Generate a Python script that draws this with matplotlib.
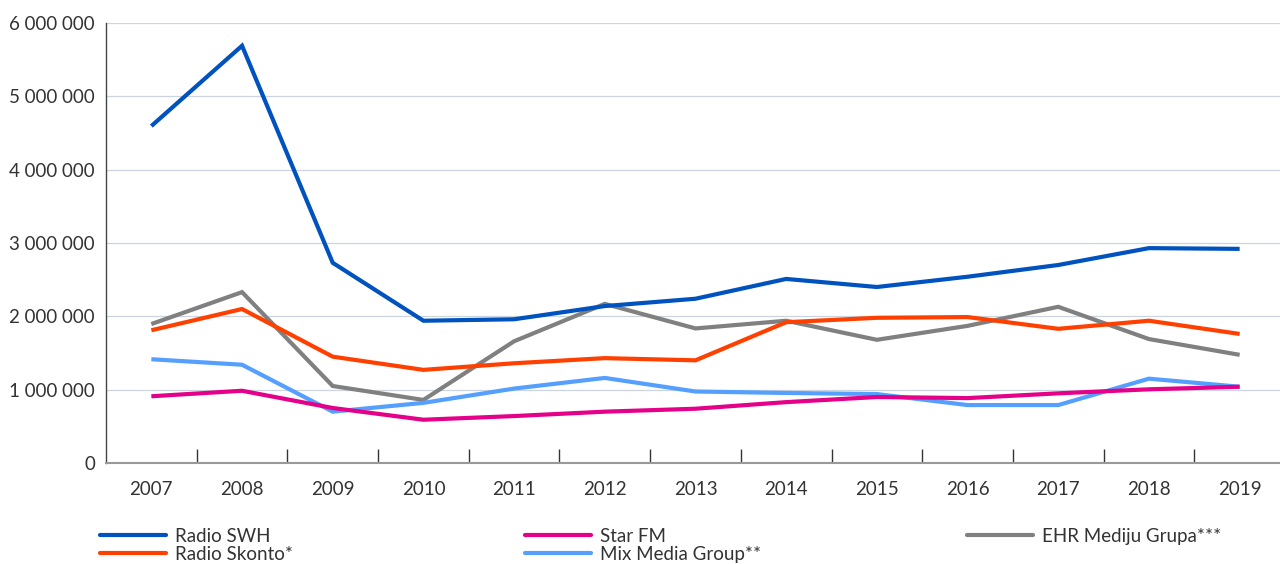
import matplotlib
matplotlib.use("Agg")
import matplotlib.pyplot as plt
from matplotlib.ticker import FuncFormatter, FixedLocator
from matplotlib.lines import Line2D

years = ["2007", "2008", "2009", "2010", "2011", "2012", "2013",
         "2014", "2015", "2016", "2017", "2018", "2019"]
radio_swh = [4595000, 5690000, 2730000, 1940000, 1960000, 2140000, 2240000,
             2510000, 2400000, 2540000, 2700000, 2930000, 2920000]
radio_skonto = [1810000, 2100000, 1450000, 1270000, 1360000, 1430000, 1400000,
                1920000, 1980000, 1990000, 1830000, 1940000, 1760000]
star_fm = [910000, 985000, 750000, 590000, 640000, 700000, 740000,
           830000, 900000, 885000, 950000, 1005000, 1040000]
mix_media = [1415000, 1340000, 700000, 820000, 1015000, 1160000, 975000,
             955000, 940000, 790000, 790000, 1150000, 1040000]
ehr = [1895000, 2330000, 1050000, 860000, 1660000, 2170000, 1835000,
       1940000, 1680000, 1870000, 2130000, 1690000, 1475000]

series = [
    ("Radio SWH", radio_swh, "#0052BE"),
    ("Radio Skonto*", radio_skonto, "#FF4000"),
    ("Star FM", star_fm, "#E5008A"),
    ("Mix Media Group**", mix_media, "#55A0FF"),
    ("EHR Mediju Grupa***", ehr, "#808080"),
]

plt.rcParams['font.family'] = ['Lato', 'DejaVu Sans']
text_color = "#333333"

fig = plt.figure(figsize=(12.8, 5.64), dpi=100)
ax = fig.add_axes([106/1280, 1-463/564, (1285-106)/1280, 440/564])

x = list(range(len(years)))
order = [4, 3, 2, 1, 0]
for i in order:
    name, vals, col = series[i]
    ax.plot(x, vals, color=col, lw=3.0, solid_capstyle='butt',
            solid_joinstyle='miter', zorder=3 + (5 - i))

ax.set_xlim(-0.5, len(years) - 0.5)
ax.set_ylim(0, 6000000)
ax.set_yticks(range(0, 6000001, 1000000))
ax.yaxis.set_major_formatter(FuncFormatter(lambda v, p: f"{int(v):,}".replace(",", " ")))
ax.grid(axis='y', color="#CCD5DE", lw=0.9)
ax.set_axisbelow(True)

ax.set_xticks(x)
ax.set_xticklabels(years)
ax.xaxis.set_minor_locator(FixedLocator([i + 0.5 for i in range(len(years) - 1)]))
ax.tick_params(axis='x', which='major', length=0, pad=13, labelsize=13.5, labelcolor=text_color)
ax.tick_params(axis='x', which='minor', direction='in', length=10, width=1, color="#333333")
ax.tick_params(axis='y', length=0, pad=8, labelsize=13.5, labelcolor=text_color)

for s in ['top', 'right']:
    ax.spines[s].set_visible(False)
ax.spines['left'].set_color("#444444")
ax.spines['left'].set_linewidth(1.0)
ax.spines['bottom'].set_color("#999999")
ax.spines['bottom'].set_linewidth(1.5)

def mk(col):
    return Line2D([0], [0], color=col, lw=3.0, solid_capstyle='round')

groups = [
    (100/1280, [series[0], series[1]]),
    (525/1280, [series[2], series[3]]),
    (967/1280, [series[4]]),
]
for xpos, items in groups:
    leg = fig.legend([mk(c) for _, _, c in items], [n for n, _, _ in items],
                     loc='upper left', bbox_to_anchor=(xpos, 1 - 528/564),
                     frameon=False, fontsize=13.5, handlelength=3.5,
                     handletextpad=0.5, labelspacing=0.05, borderpad=0,
                     borderaxespad=0)
    for t in leg.get_texts():
        t.set_color(text_color)

fig.savefig("out.png", dpi=100)
